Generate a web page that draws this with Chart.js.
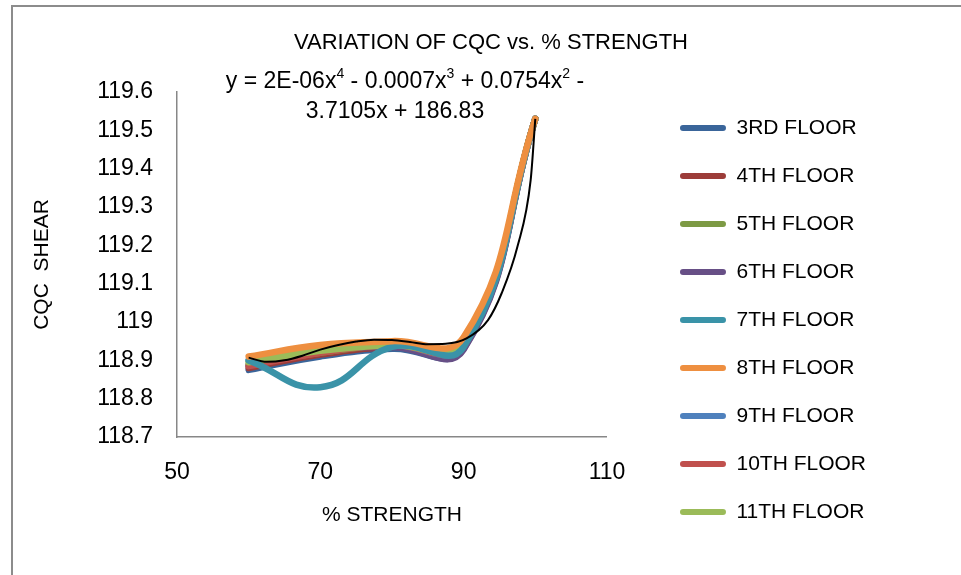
<!DOCTYPE html>
<html>
<head>
<meta charset="utf-8">
<script src="https://cdn.jsdelivr.net/npm/chart.js@4.4.1/dist/chart.umd.min.js"></script>
<style>
  html, body { margin: 0; padding: 0; background: #fff; }
  #wrap { position: relative; width: 961px; height: 575px; overflow: hidden; }
  #frame { position: absolute; left: 11px; top: 5px; width: 1000px; height: 600px;
           border-left: 2px solid #8c8c8c; border-top: 2px solid #8c8c8c; }
  #c { position: absolute; left: 0; top: 0; }
</style>
</head>
<body>
<div id="wrap"><div id="frame"></div><canvas id="c" width="961" height="575"></canvas></div>
<script>
// % strength on the x axis
var strength = [60, 70, 80, 90, 100];

// CQC shear per floor
var floor3  = [118.875, 118.91,  118.93,  118.93,  119.53];
var floor4  = [118.88,  118.915, 118.935, 118.935, 119.53];
var floor5  = [118.89,  118.92,  118.94,  118.94,  119.53];
var floor6  = [118.885, 118.925, 118.935, 118.928, 119.53];
var floor7  = [118.90,  118.83,  118.935, 118.935, 119.53];
var floor8  = [118.91,  118.94,  118.95,  118.96,  119.53];
var floor9  = [118.90,  118.93,  118.94,  118.94,  119.53];
var floor10 = [118.885, 118.92,  118.94,  118.94,  119.53];
var floor11 = [118.895, 118.925, 118.94,  118.945, 119.53];

var floorNames = ['3RD FLOOR', '4TH FLOOR', '5TH FLOOR', '6TH FLOOR', '7TH FLOOR',
                  '8TH FLOOR', '9TH FLOOR', '10TH FLOOR', '11TH FLOOR'];
var floorColors = ['#3a659a', '#9c3c39', '#7d9a44', '#674f86', '#3a93a8',
                   '#ee8f40', '#4f81bd', '#c0504d', '#9bbb59'];
// drawing order, lower = on top
var floorOrder = [9, 8, 7, 6, 2, 1, 5, 4, 3];

// poly trendline
var trendX = [60, 62.5, 65, 67.5, 70, 72.5, 75, 77.5, 80, 82.5, 85, 87.5, 90.4, 93.4, 95.3, 97.5, 99.35, 100];
var trendY = [118.907, 118.896, 118.900, 118.912, 118.928, 118.940, 118.949, 118.954, 118.953,
              118.948, 118.942, 118.943, 118.957, 119.005, 119.075, 119.196, 119.37, 119.53];

var xTicks = [50, 70, 90, 110];
var yTicks = [118.7, 118.8, 118.9, 119, 119.1, 119.2, 119.3, 119.4, 119.5, 119.6];

var titleText = 'VARIATION OF CQC vs. % STRENGTH';
var xTitle = '% STRENGTH';
var yTitle = 'CQC  SHEAR';
// equation label, [text, isSuperscript]
var eqLine1 = [['y = 2E-06x', 0], ['4', 1], [' - 0.0007x', 0], ['3', 1], [' + 0.0754x', 0], ['2', 1], [' -', 0]];
var eqLine2 = [['3.7105x + 186.83', 0]];

var FONT = "'Liberation Sans', Arial, sans-serif";
Chart.defaults.font.family = FONT;
Chart.defaults.color = '#000';

var allFloors = [floor3, floor4, floor5, floor6, floor7, floor8, floor9, floor10, floor11];

var datasets = allFloors.map(function (vals, i) {
  return {
    label: floorNames[i],
    data: strength.map(function (x, j) { return { x: x, y: vals[j] }; }),
    borderColor: floorColors[i],
    backgroundColor: floorColors[i],
    borderWidth: 6.5,
    borderCapStyle: 'round',
    borderJoinStyle: 'round',
    pointRadius: 0,
    tension: 0.45,
    fill: false,
    order: floorOrder[i],
    yAxisID: 'y'
  };
});
var trendIndex = datasets.length;
datasets.push({
  label: 'Poly.',
  data: trendX.map(function (x, j) { return { x: x, y: trendY[j] }; }),
  borderColor: '#000',
  backgroundColor: '#000',
  borderWidth: 2,
  pointRadius: 0,
  cubicInterpolationMode: 'monotone',
  fill: false,
  order: 0,
  yAxisID: 'y'
});

function drawRich(ctx, parts, cx, cy) {
  var big = '23px ' + FONT, small = '14px ' + FONT;
  var w = 0;
  parts.forEach(function (p) { ctx.font = p[1] ? small : big; w += ctx.measureText(p[0]).width; });
  var x = cx - w / 2;
  parts.forEach(function (p) {
    ctx.font = p[1] ? small : big;
    ctx.fillText(p[0], x, p[1] ? cy - 8 : cy);
    x += ctx.measureText(p[0]).width;
  });
}

var eqPlugin = {
  id: 'eqLabel',
  afterDraw: function (chart) {
    var ctx = chart.ctx;
    ctx.save();
    ctx.fillStyle = '#000';
    ctx.textAlign = 'left';
    ctx.textBaseline = 'middle';
    drawRich(ctx, eqLine1, 405, 82);
    drawRich(ctx, eqLine2, 395, 112);
    ctx.restore();
  }
};

new Chart(document.getElementById('c').getContext('2d'), {
  type: 'line',
  data: { datasets: datasets },
  plugins: [eqPlugin],
  options: {
    responsive: false,
    animation: false,
    layout: { padding: { left: 30, right: 9, top: 0, bottom: 25.5 } },
    plugins: {
      title: {
        display: true, text: titleText, color: '#000',
        font: { size: 22, weight: 'normal' },
        padding: { top: 30, bottom: 35.6 }
      },
      legend: {
        position: 'right',
        align: 'end',
        maxWidth: 1000,
        labels: {
          font: { size: 21 }, color: '#000',
          boxWidth: 46, boxHeight: 6, padding: 27,
          generateLabels: function (chart) {
            var items = Chart.defaults.plugins.legend.labels.generateLabels(chart);
            return items.filter(function (it) { return it.datasetIndex !== trendIndex; })
              .map(function (it) { it.lineWidth = 0; it.borderRadius = 3; return it; })
              .sort(function (a, b) { return a.datasetIndex - b.datasetIndex; });
          }
        }
      },
      tooltip: { enabled: false }
    },
    scales: {
      x: {
        type: 'linear', min: 50, max: 110,
        afterBuildTicks: function (s) { s.ticks = xTicks.map(function (v) { return { value: v }; }); },
        afterFit: function (s) { s.height = 112.5; },
        grid: { display: false, drawTicks: false },
        border: { display: true, color: '#878787', width: 1.5 },
        ticks: { font: { size: 23 }, color: '#000', padding: 22, maxRotation: 0,
                 callback: function (v) { return String(v); } },
        title: { display: true, text: xTitle, color: '#000', font: { size: 21 },
                 padding: { top: 0, bottom: 21.9 } }
      },
      y: {
        type: 'linear', position: 'left', min: 118.7, max: 119.6,
        afterBuildTicks: function (s) { s.ticks = yTicks.map(function (v) { return { value: v }; }); },
        afterFit: function (s) { s.width = 147; },
        grid: { display: false, drawTicks: false },
        border: { display: true, color: '#878787', width: 1.5 },
        ticks: { font: { size: 23 }, color: '#000', padding: 24,
                 callback: function (v) { return String(+v.toFixed(1)); } },
        title: { display: true, text: yTitle, color: '#000', font: { size: 21 },
                 padding: { top: 0, bottom: 0 } }
      },
      // empty spacer between plot and legend
      yR: {
        type: 'linear', position: 'right', display: true, weight: 0,
        afterFit: function (s) { s.width = 46; },
        grid: { display: false, drawTicks: false },
        border: { display: false },
        ticks: { display: false }
      },
      // empty spacer right of the legend
      yR2: {
        type: 'linear', position: 'right', display: true, weight: 2000,
        afterFit: function (s) { s.width = 76; },
        grid: { display: false, drawTicks: false },
        border: { display: false },
        ticks: { display: false }
      }
    }
  }
});
</script>
</body>
</html>
